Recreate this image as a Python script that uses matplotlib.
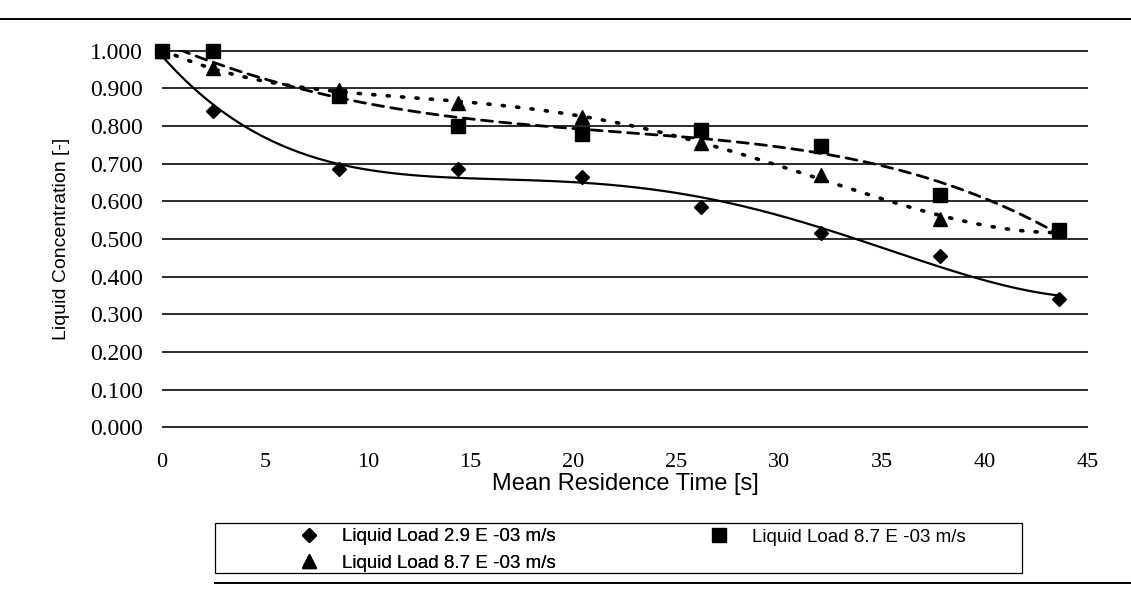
import matplotlib
import numpy as np
from matplotlib import pyplot as plt
from matplotlib.lines import Line2D
from matplotlib.patches import Rectangle

matplotlib.use('Agg')

# Mean residence time [s] of the measured points
residence_time = [0.0, 2.5, 8.6, 14.4, 20.4, 26.2, 32.0, 37.8, 43.6]

# Liquid concentration [-] per liquid load
conc_load_29 = [1.000, 0.840, 0.685, 0.685, 0.665, 0.585, 0.515, 0.455, 0.340]
conc_load_87_tri = [1.000, 0.955, 0.895, 0.860, 0.825, 0.755, 0.670, 0.552, 0.520]
conc_load_87_sq = [1.000, 1.000, 0.880, 0.800, 0.780, 0.790, 0.747, 0.618, 0.523]

label_29 = 'Liquid Load 2.9 E -03 m/s'
label_87_tri = 'Liquid Load 8.7 E -03 m/s'
label_87_sq = 'Liquid Load 8.7 E -03 m/s'

x_ticks = [0, 5, 10, 15, 20, 25, 30, 35, 40, 45]
y_ticks = [0.0, 0.1, 0.2, 0.3, 0.4, 0.5, 0.6, 0.7, 0.8, 0.9, 1.0]

SERIF = 'Liberation Serif'
SANS = 'Liberation Sans'
FIT_ORDER = 4


def trend_line(ax, x, y, linestyle, lw):
    # polynomial trend line through the measured points (like the spreadsheet one)
    coeffs = np.polyfit(x, y, FIT_ORDER)
    xs = np.linspace(min(x), max(x), 300)
    ax.plot(xs, np.polyval(coeffs, xs), color='black', linestyle=linestyle,
            lw=lw, solid_capstyle='round', dash_capstyle='round', zorder=3)


def plot_concentration():
    fig = plt.figure(figsize=(11.31, 5.90), dpi=100)
    ax = fig.add_axes([0.1432, 0.2746, 0.8189, 0.6407])

    # trend lines
    trend_line(ax, residence_time, conc_load_29, '-', 1.6)
    trend_line(ax, residence_time, conc_load_87_tri, (0, (0.6, 3.4)), 2.6)
    trend_line(ax, residence_time, conc_load_87_sq, (0, (4.0, 2.6)), 2.0)

    # measured points
    ax.plot(residence_time, conc_load_87_sq, linestyle='none', marker='s', ms=10,
            color='black', clip_on=False, zorder=4)
    ax.plot(residence_time, conc_load_87_tri, linestyle='none', marker='^', ms=10,
            color='black', clip_on=False, zorder=5)
    ax.plot(residence_time, conc_load_29, linestyle='none', marker='D', ms=7.5,
            color='black', clip_on=False, zorder=6)

    ax.set_xlim(0, 45)
    ax.set_ylim(-0.002, 1.002)
    ax.set_xticks(x_ticks)
    ax.set_yticks(y_ticks)
    ax.set_yticklabels([f'{v:.3f}' for v in y_ticks])
    ax.tick_params(axis='both', length=0)
    ax.tick_params(axis='x', pad=18, labelsize=16)
    ax.tick_params(axis='y', pad=14, labelsize=17)
    for lab in ax.get_xticklabels() + ax.get_yticklabels():
        lab.set_fontfamily(SERIF)

    for spine in ax.spines.values():
        spine.set_visible(False)
    ax.yaxis.grid(True, color='#1a1a1a', lw=1.3)
    ax.set_axisbelow(True)

    ax.set_xlabel('Mean Residence Time [s]', fontfamily=SANS, fontsize=17, labelpad=1)
    ax.set_ylabel('Liquid Concentration [-]', fontfamily=SANS, fontsize=14, labelpad=14)

    # legend box and entries (two columns)
    fig.patches.append(Rectangle((0.190, 0.0288), 0.7135, 0.0847, transform=fig.transFigure,
                                 fill=False, edgecolor='black', lw=0.9))
    fs = 13.5
    h_29 = Line2D([], [], linestyle='none', marker='D', ms=7.5, color='black')
    h_tri = Line2D([], [], linestyle='none', marker='^', ms=10, color='black')
    h_sq = Line2D([], [], linestyle='none', marker='s', ms=10, color='black')
    leg_kw = dict(frameon=False, borderpad=0, handlelength=1.0, handletextpad=1.26,
                  labelspacing=0.52, prop={'family': SANS, 'size': fs})
    leg1 = fig.legend([h_29, h_tri], [label_29, label_87_tri], loc='center left',
                      bbox_to_anchor=(0.257, 0.0678), **leg_kw)
    fig.legend([h_sq], [label_87_sq], loc='center left',
               bbox_to_anchor=(0.6195, 0.0898), **leg_kw)
    fig.add_artist(leg1)

    # outer chart border lines
    fig.add_artist(Line2D([0.0, 1.0], [1 - 19 / 590, 1 - 19 / 590], color='black', lw=1.4,
                          transform=fig.transFigure))
    fig.add_artist(Line2D([0.190, 1.0], [1 - 583 / 590, 1 - 583 / 590], color='black', lw=1.4,
                          transform=fig.transFigure))

    fig.savefig('out.png', dpi=100)
    plt.close(fig)


plot_concentration()
